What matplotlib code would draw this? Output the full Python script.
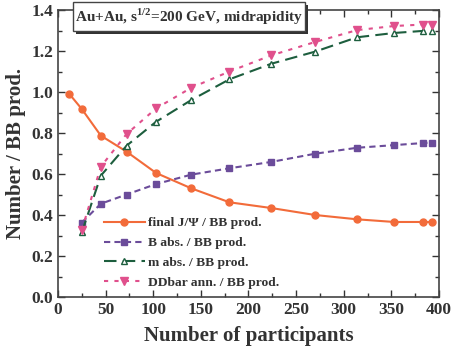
import matplotlib
matplotlib.use("Agg")
import matplotlib.pyplot as plt
from matplotlib.patches import Rectangle
from matplotlib.ticker import MultipleLocator

plt.rcParams['font.family'] = ['Liberation Serif', 'DejaVu Serif']
plt.rcParams['font.weight'] = 'bold'
plt.rcParams['mathtext.fontset'] = 'custom'
plt.rcParams['mathtext.rm'] = 'Liberation Serif:bold'

# Data
npart_jpsi = [12, 25, 45, 72, 103, 140, 180, 224, 270, 314, 353, 383, 393]
final_jpsi = [0.99, 0.917, 0.787, 0.709, 0.605, 0.530, 0.462, 0.434, 0.400, 0.379, 0.366, 0.366, 0.366]

npart = [25, 45, 72, 103, 140, 180, 224, 270, 314, 353, 383, 393]
b_abs = [0.363, 0.455, 0.500, 0.551, 0.597, 0.628, 0.659, 0.699, 0.728, 0.741, 0.751, 0.753]
m_abs = [0.315, 0.592, 0.738, 0.855, 0.961, 1.062, 1.138, 1.197, 1.267, 1.288, 1.298, 1.298]
dd_ann = [0.327, 0.636, 0.795, 0.920, 1.021, 1.100, 1.179, 1.244, 1.302, 1.322, 1.329, 1.329]

labels = ["final J/\u03a8 / BB prod.", "B abs. / BB prod.", "m abs. / BB prod.", "DDbar ann. / BB prod."]
title = "Au+Au, s$^{1/2}$=200 GeV, midrapidity"

fig = plt.figure(figsize=(4.52, 3.5), dpi=100)
ax = fig.add_axes([0.1283, 0.1514, 0.9712 - 0.1283, 0.9714 - 0.1514])

orange = '#f26b3a'
purple = '#6b4c9a'
green = '#1d5e3e'
pink = '#e0508c'

ax.plot(npart_jpsi, final_jpsi, '-', color=orange, lw=1.5, marker='o', ms=5, label=labels[0])
ax.plot(npart, b_abs, '--', color=purple, lw=1.5, marker='s', ms=4.5, dashes=(3, 2), label=labels[1])
ax.plot(npart, m_abs, '--', color=green, lw=1.5, marker='^', ms=5, mfc='white', mec=green, dashes=(6, 3), label=labels[2])
ax.plot(npart, dd_ann, '--', color=pink, lw=1.5, marker='v', ms=5.5, dashes=(2, 3), label=labels[3])

ax.set_xlim(0, 400)
ax.set_ylim(0, 1.4)
ax.xaxis.set_major_locator(MultipleLocator(50))
ax.xaxis.set_minor_locator(MultipleLocator(25))
ax.yaxis.set_major_locator(MultipleLocator(0.2))
ax.yaxis.set_minor_locator(MultipleLocator(0.1))
ax.yaxis.set_major_formatter(matplotlib.ticker.FormatStrFormatter('%.1f'))
ax.tick_params(which='both', direction='in', top=True, right=True, colors='#333333', labelcolor='#333333')
ax.tick_params(which='major', length=5, width=1, labelsize=12.5)
ax.tick_params(which='minor', length=3, width=1)
for s in ax.spines.values():
    s.set_color('#444444')
    s.set_linewidth(1.2)

ax.set_xlabel("Number of participants", fontsize=15, fontweight='bold', color='#333333', labelpad=6)
ax.set_ylabel("Number / BB prod.", fontsize=15, fontweight='bold', color='#333333', labelpad=4)

leg = ax.legend(loc='lower left', bbox_to_anchor=(0.1, 0.0), frameon=False, fontsize=9.7,
                handlelength=3.0, handletextpad=0.25, labelspacing=0.55, borderaxespad=0.2)
for t in leg.get_texts():
    t.set_color('#333333')

# Title box with shadow
W, H = 452.0, 350.0
x0, x1, ytop, ybot = 72.7, 305.0, 2.0, 31.0
off = 3.0
fig.patches.append(Rectangle(((x0 + off) / W, (H - ybot - off) / H), (x1 - x0) / W, (ybot - ytop) / H,
                             transform=fig.transFigure, facecolor='#333333', edgecolor='none', zorder=5))
fig.patches.append(Rectangle((x0 / W, (H - ybot) / H), (x1 - x0) / W, (ybot - ytop) / H,
                             transform=fig.transFigure, facecolor='white', edgecolor='#444444', lw=1, zorder=6))
fig.text((x0 + x1) / 2 / W, (H - (ytop + ybot) / 2) / H, title, ha='center', va='center',
         fontsize=11.0, fontweight='bold', color='#333333', zorder=7)

fig.savefig("out.png", dpi=100)
